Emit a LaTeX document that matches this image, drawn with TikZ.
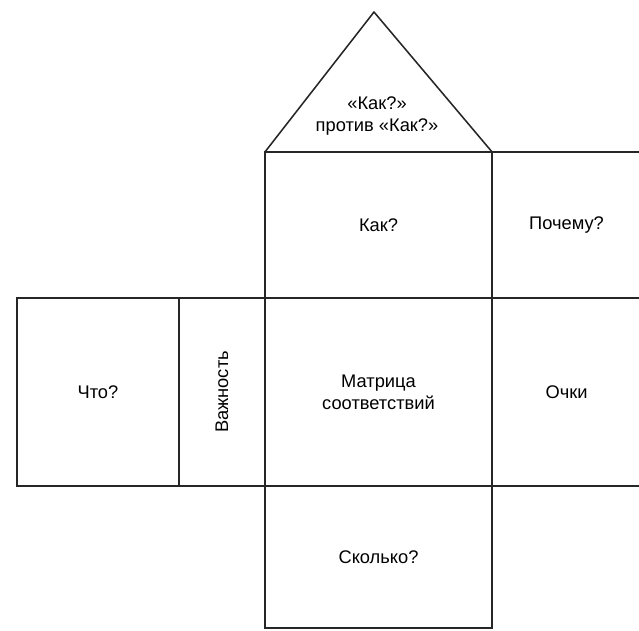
\documentclass[tikz,border=0pt]{standalone}
\usepackage{graphicx}
\usepackage{fontspec}
\setmainfont{Liberation Sans}
\usetikzlibrary{positioning}

\begin{document}
\begin{tikzpicture}[
  x=0.025cm,y=-0.025cm,
  node distance=0pt,
  line/.style={line width=1.1pt,black!85},
  cell/.style={
    draw=black!85,line width=1.1pt,inner sep=0pt,outer sep=0pt,
    align=center,font=\fontsize{13}{15.5}\selectfont
  },
  mid/.style={cell,minimum height=4.7cm},
  wide/.style={minimum width=5.675cm}
]
  \useasboundingbox (0,0) rectangle (639,631);
  \clip (0,0) rectangle (639,631);

  \node[mid,wide] (matrix) at (378.5,392) {Матрица\\соответствий};
  \node[cell,wide,minimum height=3.65cm,above=of matrix] (how) {Как?};
  \node[cell,wide,minimum height=3.55cm,below=of matrix] (howmuch) {Сколько?};
  \node[mid,minimum width=2.15cm,left=of matrix] (imp) {\rotatebox{90}{Важность}};
  \node[mid,minimum width=4.05cm,left=of imp] (what) {Что?};
  \node[mid,minimum width=3.725cm,right=of matrix] (points) {Очки};
  \node[cell,minimum width=3.725cm,minimum height=3.65cm,above=of points] (why) {Почему?};

  % roof
  \coordinate (apex) at (374,12);
  \draw[line,line join=round] (how.north west) -- (apex) -- (how.north east);
  \node[cell,draw=none] (roof) at (377,116) {«Как?»\\против «Как?»};
\end{tikzpicture}
\end{document}
